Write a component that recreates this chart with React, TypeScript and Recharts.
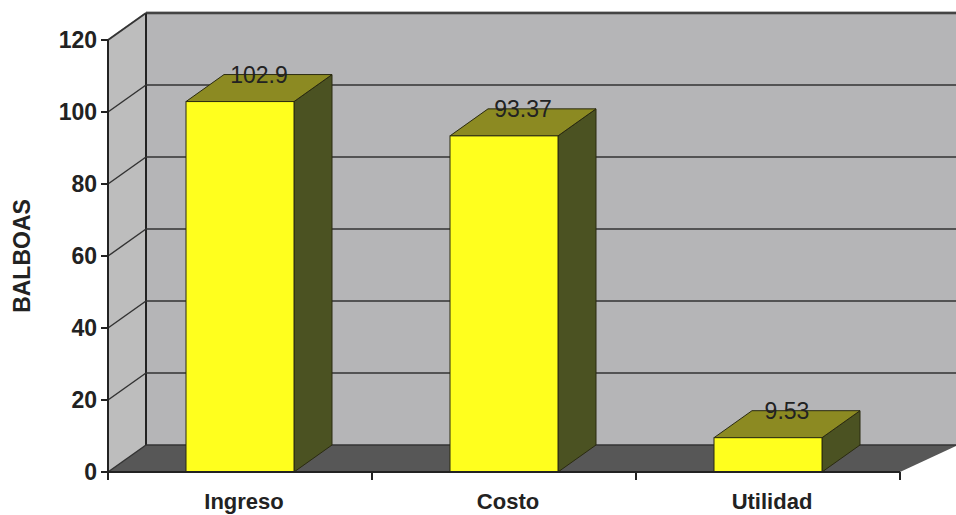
import React from 'react'
import { BarChart, Bar, XAxis, YAxis, CartesianGrid, ReferenceArea, LabelList } from 'recharts'

const categories = ['Ingreso', 'Costo', 'Utilidad']
const values = [102.9, 93.37, 9.53]
const yTicks = [0, 20, 40, 60, 80, 100, 120]

const data = categories.map((name, i) => ({ name, value: values[i] }))

// depth of the 3D box (walls and bars)
const DX = 38
const DY = 27
const FONT = 'Arial, "Liberation Sans", Helvetica, sans-serif'
const INK = '#222'

function Walls(props: any) {
  const { x, y, width, height } = props
  const bottom = y + height
  const right = x + width
  return (
    <g>
      <rect x={x + DX} y={y - DY} width={width + 120} height={height} fill="#b5b5b7" />
      <polygon
        points={`${x},${y} ${x + DX},${y - DY} ${x + DX},${bottom - DY} ${x},${bottom}`}
        fill="#bdbdbd"
      />
      <polygon
        points={`${x},${bottom} ${right},${bottom} ${right + DX + 20},${bottom - DY} ${x + DX},${bottom - DY}`}
        fill="#575757"
      />
      <line x1={x} y1={y} x2={x + DX} y2={y - DY} stroke="#555" strokeWidth={2} />
      <line x1={x + DX} y1={y - DY} x2={right + 200} y2={y - DY} stroke="#777" strokeWidth={3} />
      <line x1={x + DX} y1={y - DY} x2={x + DX} y2={bottom - DY} stroke={INK} strokeWidth={2} />
    </g>
  )
}

function GridLine(props: any) {
  const { x1, y1, x2 } = props
  return (
    <g>
      <line x1={x1} y1={y1} x2={x1 + DX} y2={y1 - DY} stroke="#333" strokeWidth={1.5} />
      <line x1={x1 + DX} y1={y1 - DY} x2={x2 + 200} y2={y1 - DY} stroke="#333" strokeWidth={1.5} />
    </g>
  )
}

function Box3D(props: any) {
  const { x, y, width: w, height: h } = props
  if (w == null || h == null) return null
  return (
    <g stroke="#2a2a10" strokeWidth={1}>
      <polygon
        points={`${x + w},${y} ${x + w + DX},${y - DY} ${x + w + DX},${y + h - DY} ${x + w},${y + h}`}
        fill="#4b5222"
      />
      <polygon
        points={`${x},${y} ${x + DX},${y - DY} ${x + w + DX},${y - DY} ${x + w},${y}`}
        fill="#8c8a22"
      />
      <rect x={x} y={y} width={w} height={h} fill="#ffff1e" />
    </g>
  )
}

function ValueLabel(props: any) {
  const { x, y, width, value } = props
  return (
    <text
      x={x + width / 2 + DX / 2}
      y={y - DY}
      dominantBaseline="central"
      textAnchor="middle"
      fontFamily={FONT}
      fontSize={23}
      fill="#222"
    >
      {value}
    </text>
  )
}

function CategoryTick(props: any) {
  const { x, y, payload } = props
  const axisY = y - 16
  const off = payload.offset || 0
  return (
    <g>
      {payload.index === 0 && (
        <line x1={x - off} y1={axisY} x2={x - off} y2={axisY + 8} stroke={INK} strokeWidth={2} />
      )}
      <line x1={x + off} y1={axisY} x2={x + off} y2={axisY + 8} stroke={INK} strokeWidth={2} />
      <text x={x + 4} y={axisY + 37} textAnchor="middle" fontFamily={FONT} fontWeight="bold" fontSize={22} fill={INK}>
        {payload.value}
      </text>
    </g>
  )
}

function AxisTitle(props: any) {
  const vb = props.viewBox || {}
  const cx = 22
  const cy = vb.y + vb.height / 2
  return (
    <text
      x={cx}
      y={cy}
      transform={`rotate(-90, ${cx}, ${cy})`}
      textAnchor="middle"
      dominantBaseline="central"
      fontFamily={FONT}
      fontWeight="bold"
      fontSize={23}
      fill={INK}
    >
      BALBOAS
    </text>
  )
}

export default function App() {
  return (
    <div style={{ position: 'absolute', left: 0, top: 0, width: 956, height: 515, background: '#fff' }}>
      <BarChart width={956} height={515} data={data} margin={{ top: 40, right: 56, bottom: 0, left: 0 }} barSize={108}>
        <ReferenceArea y1={0} y2={120} shape={<Walls />} ifOverflow="visible" zIndex={-200} />
        <CartesianGrid horizontal={(p: any) => <GridLine key={p.key} {...p} />} vertical={false} />
        <XAxis
          dataKey="name"
          height={43}
          tickLine={false}
          tickSize={8}
          tickMargin={8}
          axisLine={{ stroke: INK, strokeWidth: 2 }}
          tick={<CategoryTick />}
          interval={0}
        />
        <YAxis
          width={108}
          domain={[0, 120]}
          ticks={yTicks}
          interval={0}
          tickSize={7}
          tickMargin={4}
          axisLine={{ stroke: INK, strokeWidth: 2 }}
          tickLine={{ stroke: INK, strokeWidth: 2 }}
          tick={{ fontFamily: FONT, fontWeight: 'bold', fontSize: 23, fill: INK }}
          label={{ content: (p: any) => <AxisTitle {...p} /> }}
        />
        <Bar dataKey="value" shape={(p: any) => <Box3D {...p} />} isAnimationActive={false}>
          <LabelList dataKey="value" content={(p: any) => <ValueLabel {...p} />} />
        </Bar>
      </BarChart>
    </div>
  )
}
